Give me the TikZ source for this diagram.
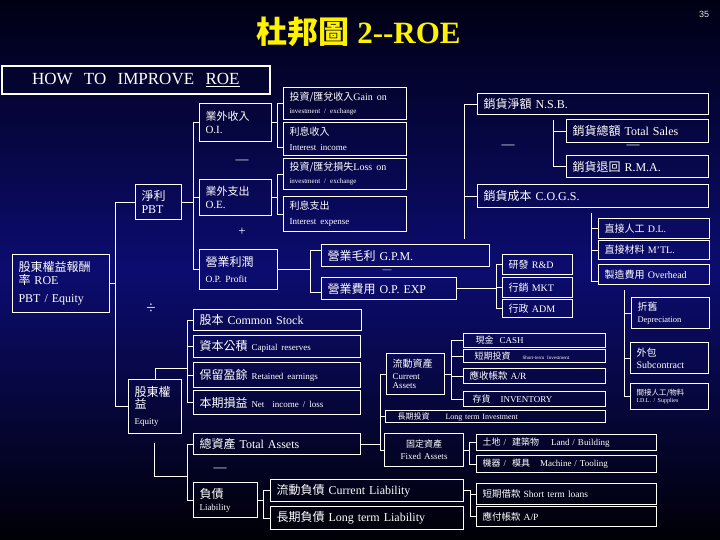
\documentclass[tikz,border=0pt]{standalone}
\usepackage{fontspec}
\setmainfont{Liberation Serif}
\setsansfont{Liberation Sans}
\newfontfamily\cjk{Noto Sans CJK TC}
\newcommand{\zh}[1]{{\cjk #1}}
\newcommand{\fsz}[1]{\fontsize{#1}{#1}\selectfont}
\usetikzlibrary{calc,positioning}
\definecolor{navymid}{RGB}{12,12,112}
\definecolor{navytop}{RGB}{0,0,20}
\definecolor{navybot}{RGB}{0,0,6}
\tikzset{
  box/.style={rectangle, draw=white, line width=1pt, text=white, anchor=north west, align=left, inner xsep=6pt, inner ysep=0pt, font=\fsz{12}},
  line/.style={draw=white, line width=0.8pt},
  op/.style={text=white, inner sep=0pt, font=\fsz{13}},
  pgnum/.style={text=white!80!gray, font=\sffamily\fsz{9}},
  headline/.style={text=yellow, font=\bfseries\fsz{31}, anchor=west},
}

\begin{document}
\begin{tikzpicture}[x=1pt,y=-1pt]
    \useasboundingbox (0,0) rectangle (720,540);
    \shade[top color=navytop, bottom color=navybot, middle color=navymid] (0,0) rectangle (720,540);

    \node[headline] (title) at (253,32) {\zh{杜邦圖} 2-{}-ROE};
    \node[pgnum] (pagenum) at (704,14) {35};
    \node[box, line width=1.6pt, align=center, text width=256pt, minimum height=28pt, font=\fsz{17}] (how) at (1,65) {HOW\ \ TO\ \ IMPROVE\ \ \underline{ROE}};

    \node[box, text width=85pt, minimum height=58pt] (roe) at (12,254) {\zh{股東權益報酬}\\[1pt]\zh{率} ROE\\[6pt]PBT / Equity};
    \node[box, text width=34pt, minimum height=35pt] (pbt) at (135,184) {\zh{淨利}\\[1pt]PBT};
    \node[box, text width=60pt, minimum height=38pt, font=\fsz{11}] (oi) at (199,103) {\zh{業外收入}\\[2pt]O.I.};
    \node[box, text width=60pt, minimum height=36pt, font=\fsz{11}] (oe) at (199,179) {\zh{業外支出}\\[2pt]O.E.};
    \node[box, text width=111pt, minimum height=32pt] (gain) at (283,87) {{\fsz{10}\zh{投資/匯兌收入}Gain on}\\[1pt]{\fsz{7}investment / exchange}};
    \node[box, text width=111pt, minimum height=33pt] (intinc) at (283,122) {{\fsz{10}\zh{利息收入}}\\[3pt]{\fsz{9}Interest income}};
    \node[box, text width=111pt, minimum height=31pt] (loss) at (283,158) {{\fsz{10}\zh{投資/匯兌損失}Loss on}\\[1pt]{\fsz{7}investment / exchange}};
    \node[box, text width=111pt, minimum height=35pt] (intexp) at (283,196) {{\fsz{10}\zh{利息支出}}\\[3pt]{\fsz{9}Interest expense}};

    \node[box, text width=219pt, minimum height=21pt] (nsb) at (477,93) {\zh{銷貨淨額}\ N.S.B.};
    \node[box, text width=130pt, minimum height=23pt] (sales) at (566,119) {\zh{銷貨總額} Total Sales};
    \node[box, text width=130pt, minimum height=22pt] (rma) at (566,155) {\zh{銷貨退回} R.M.A.};
    \node[box, text width=219pt, minimum height=23pt] (cogs) at (477,184) {\zh{銷貨成本} C.O.G.S.};
    \node[box, text width=99pt, minimum height=20pt, font=\fsz{10}] (dl) at (598,218) {\zh{直接人工} D.L.};
    \node[box, text width=99pt, minimum height=19pt, font=\fsz{10}] (mtl) at (598,240) {\zh{直接材料} M'TL.};
    \node[box, text width=99pt, minimum height=20pt, font=\fsz{10}] (ovh) at (598,264) {\zh{製造費用} Overhead};

    \node[box, text width=66pt, minimum height=40pt] (opp) at (199,249) {\zh{營業利潤}\\[4pt]{\fsz{9.5}O.P. Profit}};
    \node[box, text width=156pt, minimum height=22pt] (gpm) at (321,244) {\zh{營業毛利} G.P.M.};
    \node[box, text width=123pt, minimum height=22pt] (opexp) at (321,277) {\zh{營業費用} O.P. EXP};
    \node[box, text width=58pt, minimum height=20pt, font=\fsz{10}] (rd) at (502,254) {\zh{研發} R\&D};
    \node[box, text width=58pt, minimum height=20pt, font=\fsz{10}] (mkt) at (502,277) {\zh{行銷} MKT};
    \node[box, text width=58pt, minimum height=18pt, font=\fsz{10}] (adm) at (502,299) {\zh{行政} ADM};
    \node[box, text width=66pt, minimum height=31pt, font=\fsz{10}] (dep) at (631,297) {\zh{折舊}\\[2pt]{\fsz{8.5}Depreciation}};

    \node[box, text width=156pt, minimum height=21pt] (stock) at (193,309) {\zh{股本} Common Stock};
    \node[box, text width=155pt, minimum height=22pt] (capres) at (193,335) {\zh{資本公積} {\fsz{9}Capital reserves}};
    \node[box, text width=155pt, minimum height=25pt] (retain) at (193,362) {\zh{保留盈餘} {\fsz{9}Retained earnings}};
    \node[box, text width=155pt, minimum height=24pt] (netinc) at (193,390) {\zh{本期損益} {\fsz{9}Net\ \ income / loss}};
    \node[box, text width=41pt, minimum height=54pt] (equity) at (128,379) {\zh{股東權}\\\zh{益}\\[4pt]{\fsz{9}Equity}};

    \node[box, text width=46pt, minimum height=41pt, font=\fsz{9}] (ca) at (386,353) {{\fsz{10}\zh{流動資產}}\\[3pt]Current\\Assets};
    \node[box, text width=130pt, minimum height=14pt, font=\fsz{9}] (cash) at (463,333) {\hspace*{6pt}\zh{現金}\ \ CASH};
    \node[box, text width=130pt, minimum height=13pt, font=\fsz{9}] (sti) at (463,349) {\hspace*{5pt}\zh{短期投資}\hspace{12pt}{\fsz{5}Short-term Investment}};
    \node[box, text width=130pt, minimum height=15pt, font=\fsz{9.5}] (ar) at (463,368) {\zh{應收帳款} A/R};
    \node[box, text width=130pt, minimum height=15pt, font=\fsz{9}] (inv) at (463,391) {\hspace*{3pt}\zh{存貨}\hspace{10pt}INVENTORY};
    \node[box, text width=208pt, minimum height=12pt, font=\fsz{8}] (lti) at (385,410) {\hspace*{6pt}\zh{長期投資}\hspace{16pt}Long term Investment};
    \node[box, text width=66pt, minimum height=31pt, font=\fsz{10}] (sub) at (630,342) {\zh{外包}\\[2pt]Subcontract};
    \node[box, text width=66pt, minimum height=26pt, font=\fsz{7.5}] (idl) at (630,383) {\zh{間接人工/物料}\\{\fsz{6}I.D.L. / Supplies}};

    \node[box, text width=155pt, minimum height=21pt] (ta) at (193,433) {\zh{總資產} Total Assets};
    \node[box, text width=67pt, minimum height=33pt, font=\fsz{9}, align=center] (fa) at (384,433) {\zh{固定資產}\\[3pt]Fixed Assets};
    \node[box, text width=168pt, minimum height=16pt, font=\fsz{9}] (land) at (476,434) {\zh{土地}\ /\ \ \zh{建築物}\hspace{12pt}Land / Building};
    \node[box, text width=168pt, minimum height=17pt, font=\fsz{9}] (mach) at (476,455) {\zh{機器}\ /\ \ \zh{模具}\hspace{10pt}Machine / Tooling};
    \node[box, text width=52pt, minimum height=35pt] (liab) at (193,482) {\zh{負債}\\{\fsz{9}Liability}};
    \node[box, text width=181pt, minimum height=22pt] (cl) at (270,479) {\zh{流動負債} Current Liability};
    \node[box, text width=181pt, minimum height=23pt] (ltl) at (270,506) {\zh{長期負債} Long term Liability};
    \node[box, text width=168pt, minimum height=21pt, font=\fsz{9.5}] (stl) at (476,483) {\zh{短期借款} Short term loans};
    \node[box, text width=168pt, minimum height=20pt, font=\fsz{9.5}] (ap) at (476,506) {\zh{應付帳款} A/P};

    \node[op] (minus1) at (242,162) {—};
    \node[op] (plus1) at (242,232) {+};
    \node[op, font=\fsz{17}] (divide) at (151,309) {÷};
    \node[op] (minus2) at (508,147) {—};
    \node[op] (minus3) at (633,147) {—};
    \node[op, font=\fsz{9}] (minus4) at (387,271.5) {—};
    \node[op] (minus5) at (220,470) {—};

    \coordinate (xroe) at (115,0);
    \coordinate (xpbt) at (193,0);
    \coordinate (xoi) at (277,0);
    \coordinate (xnsb) at (464,0);
    \coordinate (xop) at (310,0);
    \coordinate (xrd) at (496,0);
    \coordinate (xeq) at (187,0);
    \coordinate (xca) at (380,0);
    \coordinate (xcash) at (451,0);
    \coordinate (xfa) at (469,0);
    \coordinate (xlb) at (263,0);
    \coordinate (xcl) at (470,0);
    \coordinate (tstop) at (553,120);
    \coordinate (dltop) at (591,213);
    \coordinate (deptop) at (624,290);
    \coordinate (eqjoin) at (187,368);
    \coordinate (eqlow) at (154,443);
    \coordinate (tajoin) at (187,476);
    \coordinate (iicin) at ([yshift=-8pt]intinc.west);
    \coordinate (ovhin) at ([yshift=-7pt]ovh.west);
    \coordinate (gpmin) at ([yshift=5pt]gpm.west);
    \coordinate (opxin) at ([yshift=-4pt]opexp.west);

    \begin{scope}[every path/.style=line]
      \path (pbt.west) -| (xroe |- equity.west) -- (equity.west);
      \path (roe.east) -- (roe.east -| xroe);
      \path (pbt.east) -- (pbt.east -| xpbt);
      \path (oi.west) -| (xpbt |- opp.west) -- (opp.west);
      \path (oe.west) -- (oe.west -| xpbt);
      \path (oi.east) -- (oi.east -| xoi);
      \path (gain.west) -| (xoi |- iicin) -- (iicin);
      \path (oe.east) -- (oe.east -| xoi);
      \path (loss.west) -| (xoi |- intexp.west) -- (intexp.west);

      \path[shorten >=5pt] (nsb.west) -| (xnsb |- gpm.north);
      \path (cogs.west) -- (cogs.west -| xnsb);
      \path (tstop) |- (rma.west);
      \path (sales.west) -- (sales.west -| tstop);
      \path (dltop) |- (ovhin);
      \path (dl.west) -- (dl.west -| dltop);
      \path (mtl.west) -- (mtl.west -| dltop);

      \path (opp.east) -- (opp.east -| xop);
      \path (gpmin) -| (xop |- opxin) -- (opxin);
      \path (opexp.east) -- (opexp.east -| xrd);
      \path (rd.west) -| (xrd |- adm.west) -- (adm.west);
      \path (mkt.west) -- (mkt.west -| xrd);
      \path (deptop) |- (idl.west);
      \path (dep.west) -- (dep.west -| deptop);
      \path (sub.west) -- (sub.west -| deptop);

      \path (stock.west) -| (xeq |- netinc.west) -- (netinc.west);
      \path (capres.west) -- (capres.west -| xeq);
      \path (retain.west) -- (retain.west -| xeq);
      \path (equity.north) |- (eqjoin);

      \path (ta.west) -| (xeq |- liab.west) -- (liab.west);
      \path (eqlow) |- (tajoin);
      \path (ta.east) -- (ta.east -| xca);
      \path (ca.west) -| (xca |- fa.west) -- (fa.west);
      \path (lti.west) -- (lti.west -| xca);
      \path (ca.east) -- (ca.east -| xcash);
      \path (cash.west) -| (xcash |- inv.west) -- (inv.west);
      \path (sti.west) -- (sti.west -| xcash);
      \path (ar.west) -- (ar.west -| xcash);
      \path (fa.east) -- (fa.east -| xfa);
      \path (land.west) -| (xfa |- mach.west) -- (mach.west);

      \path (liab.east) -- (liab.east -| xlb);
      \path (cl.west) -| (xlb |- ltl.west) -- (ltl.west);
      \path (cl.east) -| (xcl |- ap.west) -- (ap.west);
      \path (stl.west) -- (stl.west -| xcl);
    \end{scope}
\end{tikzpicture}
\end{document}
